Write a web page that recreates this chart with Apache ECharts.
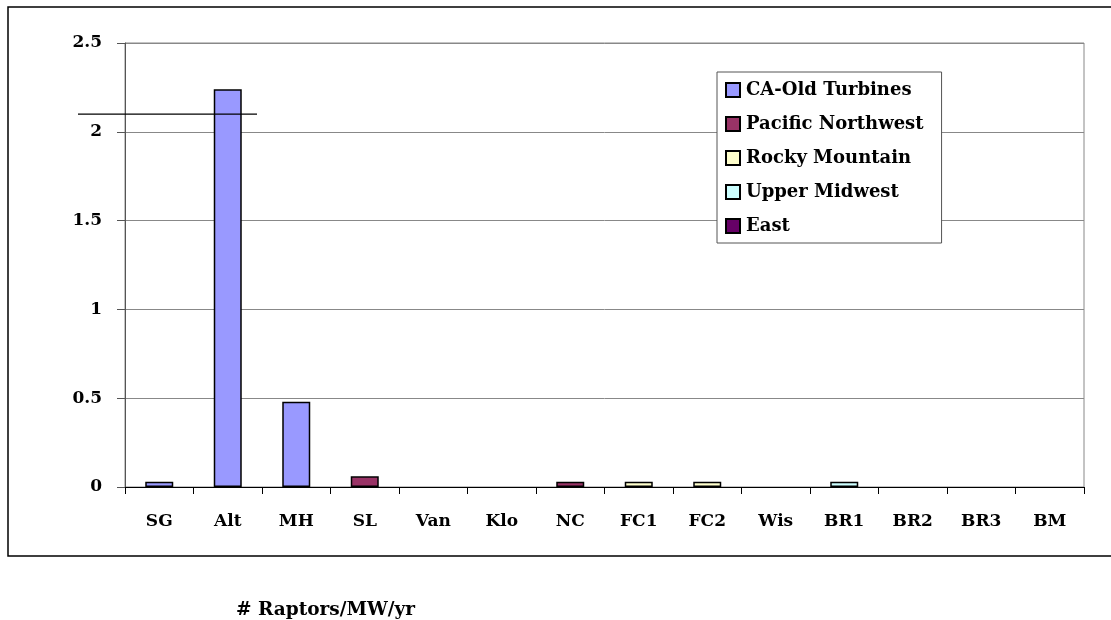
<!DOCTYPE html>
<html>
<head>
<meta charset="utf-8">
<script src="https://cdn.jsdelivr.net/npm/echarts@6/dist/echarts.min.js"></script>
<style>html,body{margin:0;padding:0;background:#fff}#c{width:1111px;height:620px}</style>
</head>
<body>
<div id="c"></div>
<script>
const categories = ['SG','Alt','MH','SL','Van','Klo','NC','FC1','FC2','Wis','BR1','BR2','BR3','BM'];
const values     = [0.03, 2.24, 0.48, 0.06, 0, 0, 0.03, 0.03, 0.03, 0, 0.03, 0, 0, 0];
const regionOf   = ['CA-Old Turbines','CA-Old Turbines','CA-Old Turbines','Pacific Northwest','Pacific Northwest','Pacific Northwest','Pacific Northwest','Rocky Mountain','Rocky Mountain','Upper Midwest','Upper Midwest','East','East','East'];
const seriesNames = ['CA-Old Turbines','Pacific Northwest','Rocky Mountain','Upper Midwest','East'];
const seriesColors = ['#9999FF','#993366','#FFFFCC','#CCFFFF','#660066'];
const yTicks = { min: 0, max: 2.5, interval: 0.5 };
const referenceLineValue = 2.1;
const axisTitle = '# Raptors/MW/yr';

const FONT = '"DejaVu Serif", "Liberation Serif", serif';
const chart = echarts.init(document.getElementById('c'), null, {renderer: 'canvas'});

const series = seriesNames.map((name, si) => ({
  name: name,
  type: 'bar',
  stack: 'all',
  barWidth: 28,
  itemStyle: { color: seriesColors[si], borderColor: '#000', borderWidth: 1.5 },
  data: categories.map((c, i) => (regionOf[i] === name && values[i] > 0) ? values[i] : null)
}));

chart.setOption({
  animation: false,
  backgroundColor: '#fff',
  grid: { left: 125, right: 27, top: 43, bottom: 133, show: true, borderColor: '#888', borderWidth: 1, containLabel: false },
  title: {
    text: axisTitle, left: 231, top: 596,
    textStyle: { fontFamily: FONT, fontWeight: 'bold', fontSize: 18.5, color: '#000' }
  },
  legend: {
    orient: 'vertical', left: 717, top: 72,
    padding: [9, 18, 8, 8],
    itemGap: 16, itemWidth: 14, itemHeight: 14,
    icon: 'rect',
    backgroundColor: '#fff', borderColor: '#555', borderWidth: 1,
    textStyle: { fontFamily: FONT, fontWeight: 'bold', fontSize: 18, color: '#000', padding: [0, 0, 0, 1] },
    data: seriesNames
  },
  xAxis: {
    type: 'category', data: categories,
    axisLine: { lineStyle: { color: '#000', width: 1 } },
    axisTick: { show: true, length: 7, alignWithLabel: false, lineStyle: { color: '#000' } },
    axisLabel: { margin: 26, fontFamily: FONT, fontWeight: 'bold', fontSize: 17, color: '#000' },
    splitLine: { show: false }
  },
  yAxis: {
    type: 'value', min: yTicks.min, max: yTicks.max, interval: yTicks.interval,
    axisLine: { show: true, lineStyle: { color: '#555', width: 1 } },
    axisTick: { show: true, length: 8, lineStyle: { color: '#555' } },
    axisLabel: { margin: 23, fontFamily: FONT, fontWeight: 'bold', fontSize: 17, color: '#000' },
    splitLine: { show: true, lineStyle: { color: '#888', width: 1 } }
  },
  series: series
});

const refY = chart.convertToPixel({ yAxisIndex: 0 }, referenceLineValue);
chart.setOption({
  graphic: [
    { type: 'rect', shape: { x: 8, y: 7, width: 1110, height: 549 }, style: { fill: null, stroke: '#000', lineWidth: 1.5 }, silent: true },
    { type: 'line', shape: { x1: 78, y1: refY, x2: 257, y2: refY }, style: { stroke: '#000', lineWidth: 1.2 }, z: 100 }
  ]
});
</script>
</body>
</html>
